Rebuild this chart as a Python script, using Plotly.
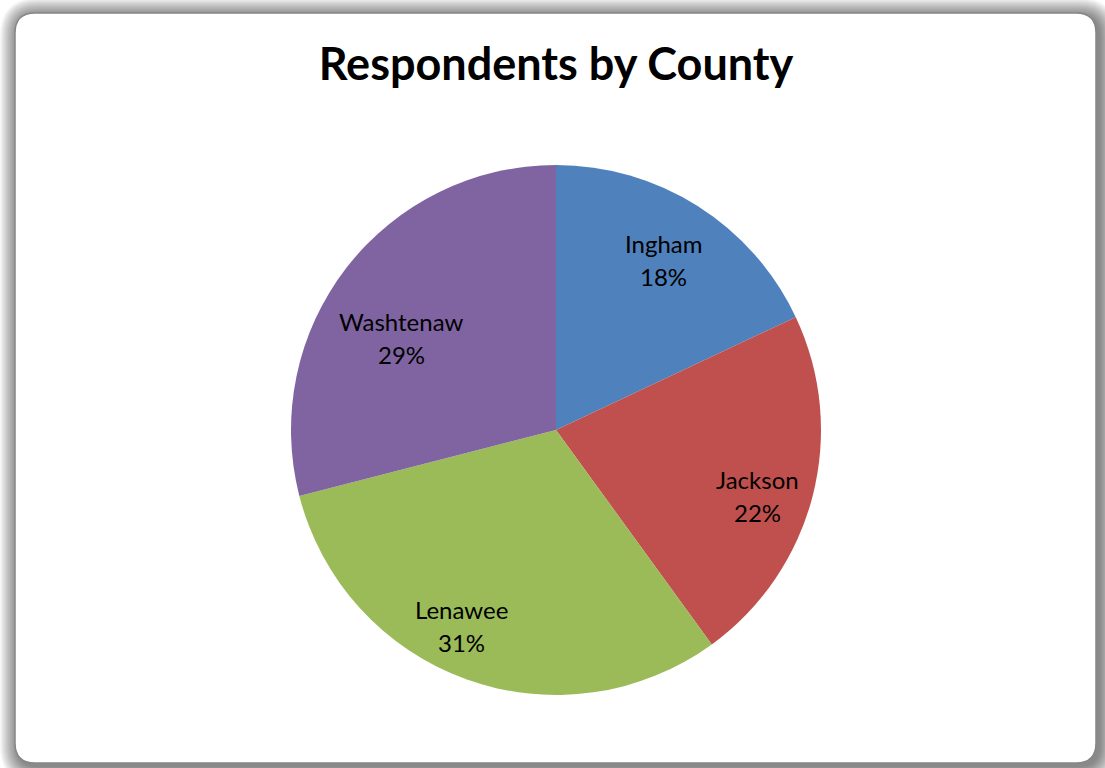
import math
import plotly.graph_objects as go

# Survey respondents by county (share of total, %)
counties = ["Ingham", "Jackson", "Lenawee", "Washtenaw"]
shares = [18, 22, 31, 29]
slice_colors = ["#4F81BD", "#C0504D", "#9BBB59", "#8064A2"]

# Label placement inside each slice: radial fraction and angular nudge (deg)
label_radius = [0.76, 0.80, 0.82, 0.68]
label_nudge = [0.0, 3.5, 6.0, -7.0]

W, H = 1105, 768
CX, CY, R = 556, 430, 265          # pie centre / radius in pixels
FONT = "Lato"


def px(x):
    return x / W


def py(y):
    return 1 - y / H


def rounded_rect(x0, y0, x1, y1, r):
    """SVG path (paper coords) of a rounded rectangle given in pixels."""
    pts = [
        f"M {px(x0 + r)},{py(y0)}",
        f"L {px(x1 - r)},{py(y0)}",
        f"Q {px(x1)},{py(y0)} {px(x1)},{py(y0 + r)}",
        f"L {px(x1)},{py(y1 - r)}",
        f"Q {px(x1)},{py(y1)} {px(x1 - r)},{py(y1)}",
        f"L {px(x0 + r)},{py(y1)}",
        f"Q {px(x0)},{py(y1)} {px(x0)},{py(y1 - r)}",
        f"L {px(x0)},{py(y0 + r)}",
        f"Q {px(x0)},{py(y0)} {px(x0 + r)},{py(y0)}",
        "Z",
    ]
    return " ".join(pts)


fig = go.Figure(
    go.Pie(
        labels=counties,
        values=shares,
        marker=dict(colors=slice_colors, line=dict(width=0)),
        sort=False,
        direction="clockwise",
        rotation=0,
        textinfo="none",
        showlegend=False,
        domain=dict(x=[px(CX - R), px(CX + R)], y=[py(CY + R), py(CY - R)]),
    )
)

# Chart-area frame: soft drop shadow plus a white rounded panel
shapes = []
FX0, FY0, FX1, FY1, FR = 15, 13, 1096, 763, 20
for i in range(18, 0, -1):
    shapes.append(dict(
        type="path", xref="paper", yref="paper", layer="below",
        path=rounded_rect(FX0 - i + 3, FY0 - i + 3, FX1 + i + 3, FY1 + i + 3, FR + i),
        fillcolor="rgba(0,0,0,0.032)", line=dict(width=0),
    ))
shapes.append(dict(
    type="path", xref="paper", yref="paper", layer="below",
    path=rounded_rect(FX0, FY0, FX1, FY1, FR),
    fillcolor="white", line=dict(color="#868686", width=1.5),
))

# Slice labels: name and percentage, placed from cumulative share angles
annotations = []
total = sum(shares)
cum = 0.0
for name, v, rf, nudge in zip(counties, shares, label_radius, label_nudge):
    mid = (cum + v / 2) / total * 360 + nudge
    cum += v
    lx = CX + rf * R * math.sin(math.radians(mid))
    ly = CY - rf * R * math.cos(math.radians(mid))
    pct = round(v / total * 100)
    for txt, shift in ((name, 16), (f"{pct}%", -17)):
        annotations.append(dict(
            x=px(lx), y=py(ly), xref="paper", yref="paper",
            text=txt, showarrow=False, yshift=shift,
            xanchor="center", yanchor="middle",
            font=dict(family=FONT, size=24, color="black"),
        ))

fig.update_layout(
    width=W, height=H,
    margin=dict(l=0, r=0, t=0, b=0),
    paper_bgcolor="white",
    plot_bgcolor="white",
    title=dict(
        text="<b>Respondents by County</b>",
        x=px(556), y=py(64), xanchor="center", yanchor="middle",
        xref="paper", yref="paper",
        font=dict(family=FONT, size=45, color="black"),
    ),
    shapes=shapes,
    annotations=annotations,
)

fig.write_html("out.html")
